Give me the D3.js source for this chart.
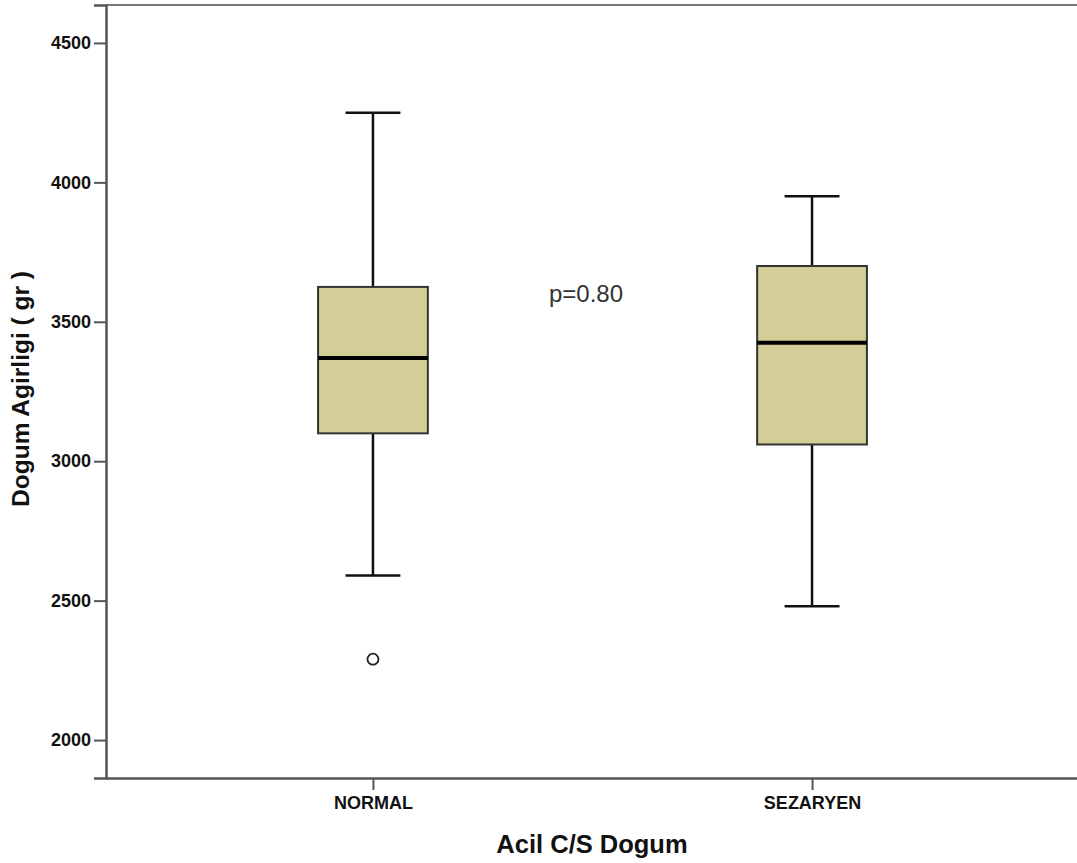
<!DOCTYPE html>
<html>
<head>
<meta charset="utf-8">
<script src="https://cdn.jsdelivr.net/npm/d3@7"></script>
<style>
  body { margin: 0; background: #fff; }
  svg { display: block; font-family: "Liberation Sans", Arial, sans-serif; }
</style>
</head>
<body>
<div id="chart"></div>
<script>
// Box plot data
const categories = ['NORMAL', 'SEZARYEN'];
const whiskerLow = [2590, 2480];
const q1 = [3100, 3060];
const median = [3370, 3425];
const q3 = [3625, 3700];
const whiskerHigh = [4250, 3950];
const outliers = [[2290], []];
const yTicks = [2000, 2500, 3000, 3500, 4000, 4500];

const width = 1077, height = 863;
const margin = { top: 5, right: -2, bottom: 85, left: 106 };

const svg = d3.select('#chart').append('svg')
    .attr('width', width)
    .attr('height', height);

const x = d3.scalePoint()
    .domain(categories)
    .range([margin.left, width - margin.right])
    .padding(0.608);

const y = d3.scaleLinear()
    .domain([1864, 4636])
    .range([height - margin.bottom, margin.top]);

const boxW = x.step() * 0.25;
const axisColor = '#555';

// Frame (top line, no right edge)
svg.append('line')
    .attr('x1', margin.left).attr('x2', width)
    .attr('y1', y(4636)).attr('y2', y(4636))
    .attr('stroke', '#777').attr('stroke-width', 2);

// Y axis
const yAxis = svg.append('g')
    .attr('transform', `translate(${margin.left},0)`)
    .call(d3.axisLeft(y).tickValues(yTicks).tickSize(12).tickPadding(3).tickFormat(d3.format('d')));
yAxis.select('.domain').attr('stroke', axisColor).attr('stroke-width', 2.5);
yAxis.selectAll('.tick line').attr('stroke', axisColor).attr('stroke-width', 2);
yAxis.selectAll('.tick text')
    .attr('fill', '#111')
    .style('font-size', '18px')
    .style('font-weight', 'bold');

// X axis
const xAxis = svg.append('g')
    .attr('transform', `translate(0,${height - margin.bottom})`)
    .call(d3.axisBottom(x).tickSize(12).tickPadding(6).tickSizeOuter(0));
xAxis.select('.domain').attr('stroke', axisColor).attr('stroke-width', 2.5);
xAxis.selectAll('.tick line').attr('stroke', axisColor).attr('stroke-width', 2);
xAxis.selectAll('.tick text')
    .attr('fill', '#111')
    .style('font-size', '18px')
    .style('font-weight', 'bold');

// Boxes
const data = categories.map((c, i) => ({
    cat: c, lo: whiskerLow[i], q1: q1[i], med: median[i], q3: q3[i], hi: whiskerHigh[i], out: outliers[i]
}));

const g = svg.append('g');
const groups = g.selectAll('.box').data(data).enter().append('g').attr('class', 'box');

// whisker stems
groups.append('line')
    .attr('x1', d => x(d.cat)).attr('x2', d => x(d.cat))
    .attr('y1', d => y(d.hi)).attr('y2', d => y(d.q3))
    .attr('stroke', '#111').attr('stroke-width', 2.5);
groups.append('line')
    .attr('x1', d => x(d.cat)).attr('x2', d => x(d.cat))
    .attr('y1', d => y(d.q1)).attr('y2', d => y(d.lo))
    .attr('stroke', '#111').attr('stroke-width', 2.5);

// caps
groups.selectAll('.cap')
    .data(d => [{ cat: d.cat, v: d.hi }, { cat: d.cat, v: d.lo }])
    .enter().append('line')
    .attr('class', 'cap')
    .attr('x1', d => x(d.cat) - boxW / 4).attr('x2', d => x(d.cat) + boxW / 4)
    .attr('y1', d => y(d.v)).attr('y2', d => y(d.v))
    .attr('stroke', '#111').attr('stroke-width', 2.5);

// box
groups.append('rect')
    .attr('x', d => x(d.cat) - boxW / 2)
    .attr('y', d => y(d.q3))
    .attr('width', boxW)
    .attr('height', d => y(d.q1) - y(d.q3))
    .attr('fill', '#d3ce98')
    .attr('stroke', '#333')
    .attr('stroke-width', 2);

// median
groups.append('line')
    .attr('x1', d => x(d.cat) - boxW / 2).attr('x2', d => x(d.cat) + boxW / 2)
    .attr('y1', d => y(d.med)).attr('y2', d => y(d.med))
    .attr('stroke', '#000').attr('stroke-width', 4);

// outliers
groups.selectAll('.outlier')
    .data(d => d.out.map(v => ({ cat: d.cat, v: v })))
    .enter().append('circle')
    .attr('class', 'outlier')
    .attr('cx', d => x(d.cat))
    .attr('cy', d => y(d.v))
    .attr('r', 5.5)
    .attr('fill', '#fff')
    .attr('stroke', '#222')
    .attr('stroke-width', 1.8);

// p-value annotation
svg.append('text')
    .attr('x', 586)
    .attr('y', 302)
    .attr('text-anchor', 'middle')
    .style('font-size', '24px')
    .attr('fill', '#333')
    .text('p=0.80');

// Axis titles
svg.append('text')
    .attr('x', 592)
    .attr('y', 853)
    .attr('text-anchor', 'middle')
    .style('font-size', '25.5px')
    .style('font-weight', 'bold')
    .attr('fill', '#111')
    .text('Acil C/S Dogum');

svg.append('text')
    .attr('transform', 'translate(29,389) rotate(-90)')
    .attr('text-anchor', 'middle')
    .style('font-size', '24.5px')
    .style('font-weight', 'bold')
    .attr('fill', '#111')
    .text('Dogum Agirligi ( gr )');
</script>
</body>
</html>
